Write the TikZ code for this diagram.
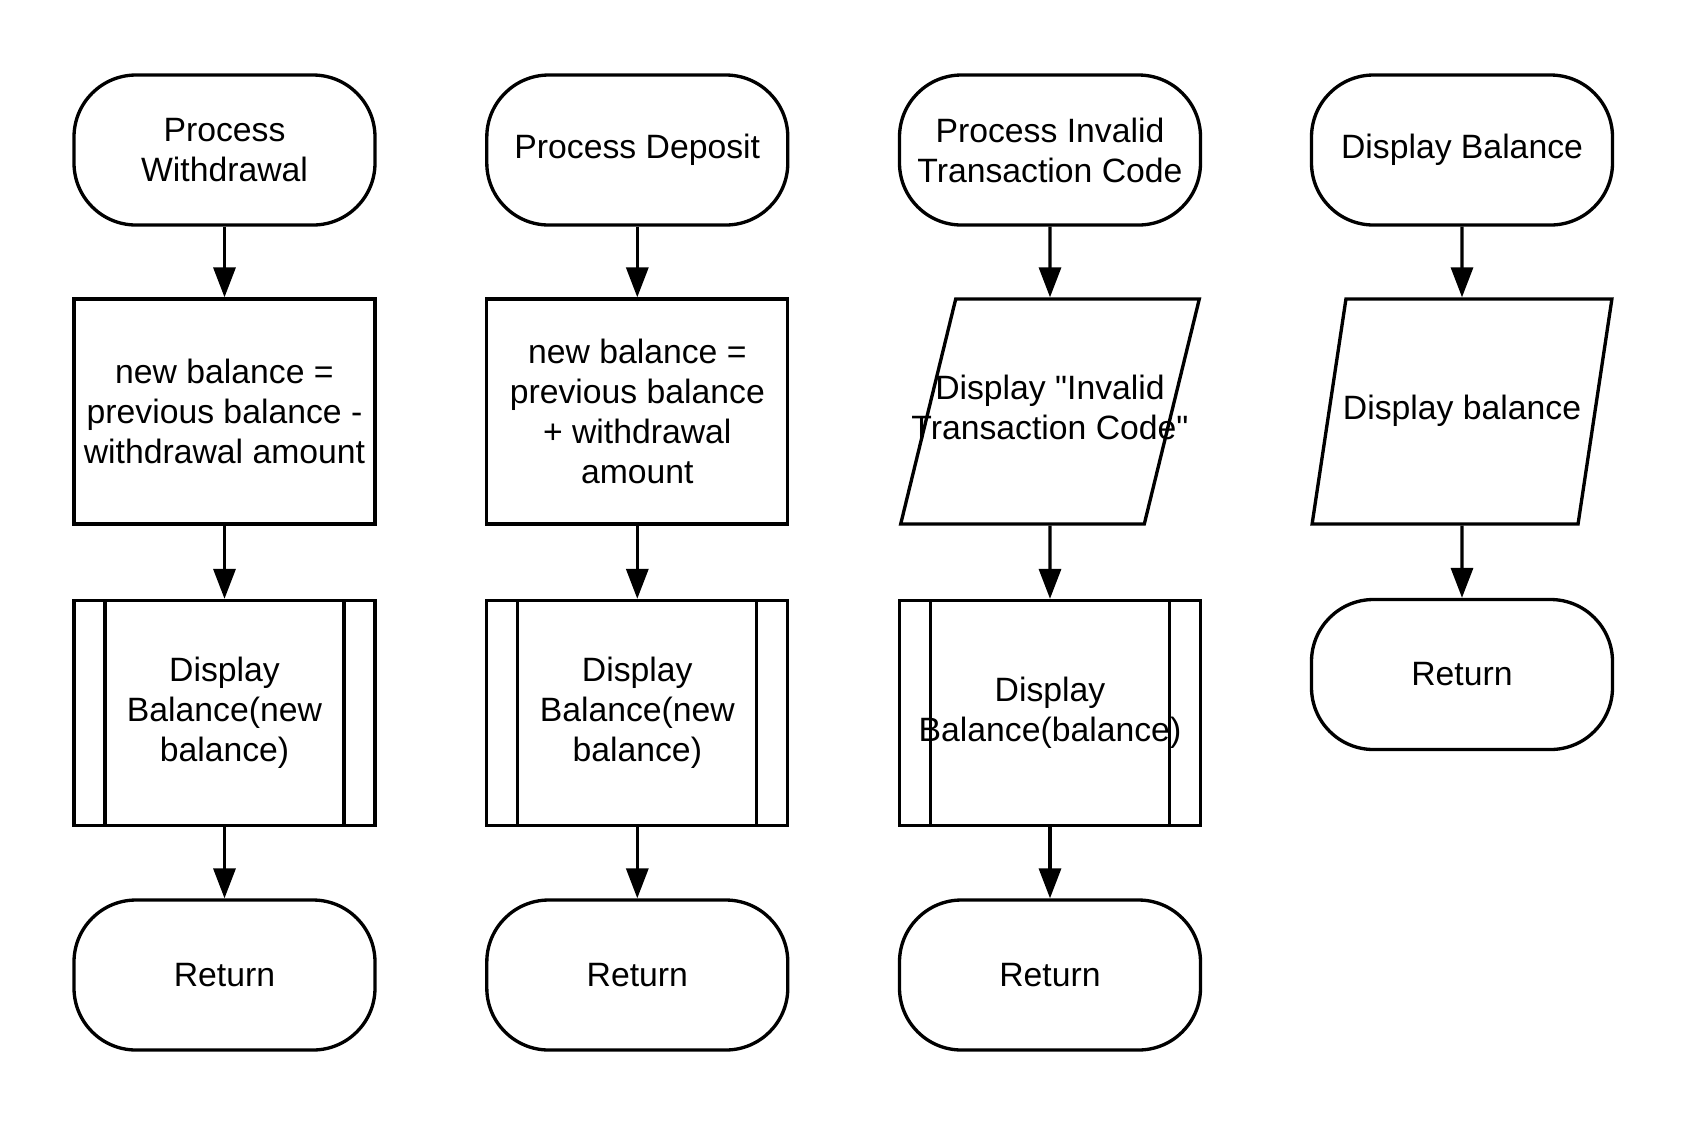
\documentclass[tikz,border=0pt]{standalone}
\usepackage{fontspec}
\setmainfont{Liberation Sans}[Ligatures=TeXOff]
\usetikzlibrary{shapes.geometric}
\usetikzlibrary{arrows.meta}

% text that may run over the slanted sides
\newcommand{\slanttext}[1]{\makebox[1cm][c]{\begin{tabular}{@{}c@{}}#1\end{tabular}}}

\begin{document}
\begin{tikzpicture}[line width=0.95pt,
    every node/.style={draw, align=center, inner sep=0pt, font=\fontsize{9.6pt}{11.4pt}\selectfont},
    term/.style={rectangle, rounded corners=0.62cm, minimum width=3.01cm, minimum height=1.5cm},
    proc/.style={rectangle, minimum width=3.01cm, minimum height=2.25cm},
    subr/.style={proc, path picture={
      \draw ([xshift=0.31cm]path picture bounding box.north west) -- ([xshift=0.31cm]path picture bounding box.south west);
      \draw ([xshift=-0.31cm]path picture bounding box.north east) -- ([xshift=-0.31cm]path picture bounding box.south east);}},
    io/.style={trapezium, trapezium left angle=70, trapezium right angle=110, trapezium stretches=true, minimum width=3.0cm, minimum height=2.25cm},
    flow/.style={-{Triangle[length=0.3cm,width=0.22cm]}}]
    \useasboundingbox (0,0) rectangle (16.88,-11.25);
    % withdrawal
    \node[term] (w1) at (2.245,-1.5) {Process\\Withdrawal};
    \node[proc] (w2) at (2.245,-4.115) {new balance =\\previous balance -\\withdrawal amount};
    \node[subr] (w3) at (2.245,-7.13) {Display\\Balance(new\\balance)};
    \node[term] (w4) at (2.245,-9.75) {Return};
    % deposit
    \node[term] (d1) at (6.373,-1.5) {Process Deposit};
    \node[proc] (d2) at (6.373,-4.115) {new balance =\\previous balance\\+ withdrawal\\amount};
    \node[subr] (d3) at (6.373,-7.13) {Display\\Balance(new\\balance)};
    \node[term] (d4) at (6.373,-9.75) {Return};
    % invalid code
    \node[term] (i1) at (10.5,-1.5) {Process Invalid\\Transaction Code};
    \node[io] (i2) at (10.5,-4.115) {\slanttext{Display "Invalid\\Transaction Code"}};
    \node[subr] (i3) at (10.5,-7.13) {Display\\Balance(balance)};
    \node[term] (i4) at (10.5,-9.75) {Return};
    % balance
    \node[term] (b1) at (14.62,-1.5) {Display Balance};
    \node[io] (b2) at (14.62,-4.115) {\slanttext{Display balance}};
    \node[term] (b3) at (14.62,-6.745) {Return};
    \foreach \i/\j in {
      w1/w2, w2/w3, w3/w4,
      d1/d2, d2/d3, d3/d4,
      i1/i2, i2/i3, i3/i4,
      b1/b2, b2/b3}
      \draw[flow] (\i.south) -- (\j.north);
\end{tikzpicture}
\end{document}
